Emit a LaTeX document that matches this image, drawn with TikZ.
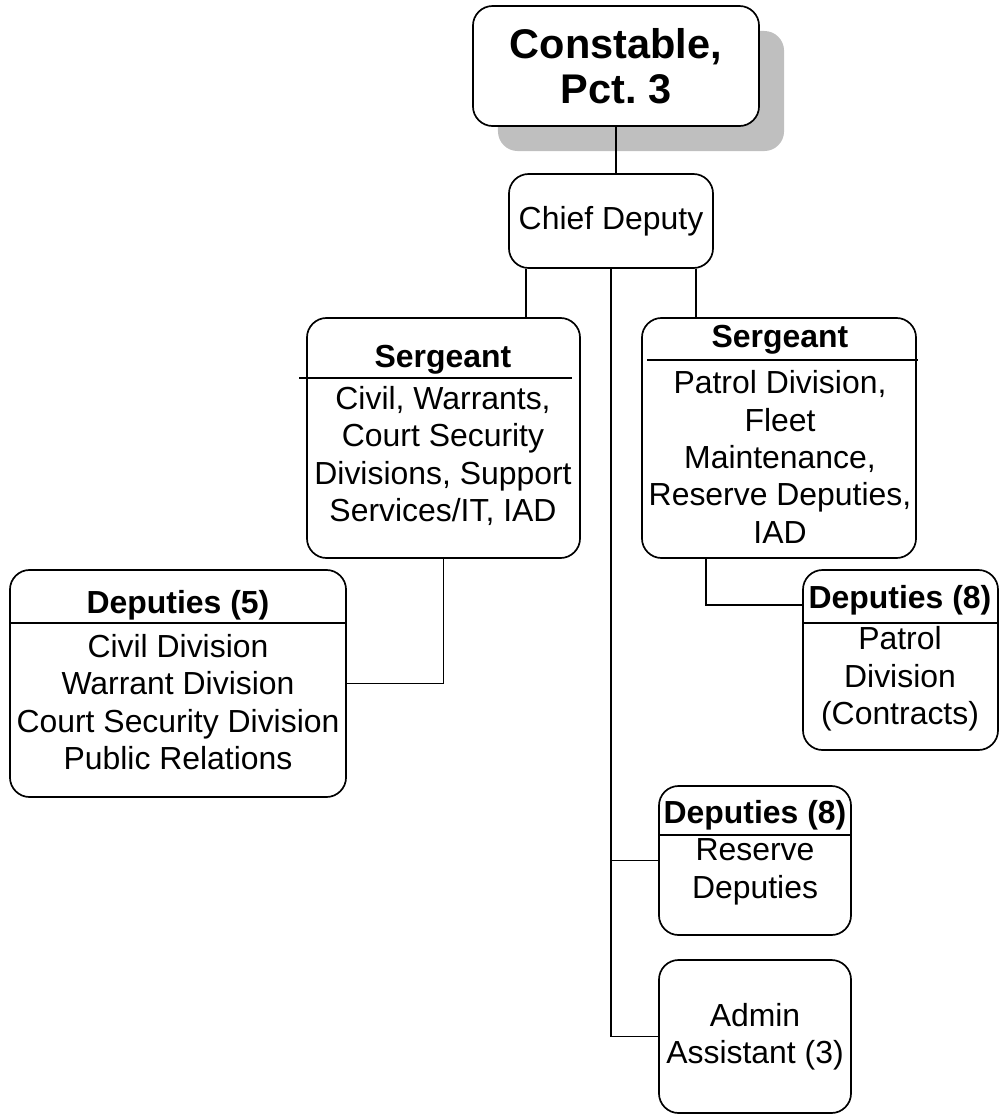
\documentclass[tikz,border=0pt]{standalone}
\usepackage{fontspec}
\setmainfont{Liberation Sans}
\usetikzlibrary{positioning,calc,shadows}

\begin{document}
\begin{tikzpicture}[
    x=0.025cm, y=-0.025cm,
    unit/.style={rectangle, draw, line width=1.2pt, rounded corners=14pt, fill=white, inner sep=0pt},
    txt/.style={align=center, inner sep=0pt, font=\fontsize{22.7}{26.6}\selectfont},
    head/.style={txt, font=\fontsize{22.7}{26.6}\selectfont\bfseries},
    link/.style={line width=1.2pt}
]
\useasboundingbox (0,0) rectangle (999,1120);

% Units
\node (constable) [unit, minimum width=7.15cm, minimum height=3cm, align=center,
    font=\fontsize{29.5}{32}\selectfont\bfseries,
    drop shadow={shadow xshift=0.625cm, shadow yshift=-0.625cm, fill=gray!50, opacity=1}]
    at (616,66) {Constable,\\Pct.\ 3};
\node (chief) [unit, txt, draw, minimum width=5.1cm, minimum height=2.35cm] at (611,221) {Chief Deputy};
\node (sgtleft) [unit, minimum width=6.825cm, minimum height=6cm] at (443.5,438) {};
\node (sgtright) [unit, minimum width=6.85cm, minimum height=6cm] at (779,438) {};
\node (depfive) [unit, minimum width=8.4cm, minimum height=5.675cm] at (178,683.5) {};
\node (depcontract) [unit, minimum width=4.875cm, minimum height=4.5cm] at (900.5,660) {};
\node (depreserve) [unit, minimum width=4.8cm, minimum height=3.725cm] at (755,860.5) {};
\node (admin) [unit, txt, draw, minimum width=4.8cm, minimum height=3.825cm] at (755,1036.5) {Admin\\Assistant (3)};

% Headers
\node (sgtlefthead) [head] at (443,360) {Sergeant};
\node (sgtrighthead) [head] at (780,340) {Sergeant};
\node (depfivehead) [head] at (178,605) {Deputies (5)};
\node (depcontracthead) [head] at (900,600) {Deputies (8)};
\node (depreservehead) [head] at (755,815) {Deputies (8)};

% Header rules
\draw[link] (299,378) -- (572,378);
\draw[link] (647,360) -- (918,360);
\draw[link] (depfive.west |- 0,623) -- (depfive.east |- 0,623);
\draw[link] (depcontract.west |- 0,623) -- (depcontract.east |- 0,623);
\draw[link] (depreserve.west |- 0,835) -- (depreserve.east |- 0,835);

% Body texts
\node (sgtleftbody) [txt] at (443,456) {Civil, Warrants,\\Court Security\\Divisions, Support\\Services/IT, IAD};
\node (sgtrightbody) [txt] at (780,457) {Patrol Division,\\Fleet\\Maintenance,\\Reserve Deputies,\\IAD};
\node (depfivebody) [txt] at (178,702) {Civil Division\\Warrant Division\\Court Security Division\\Public Relations};
\node (depcontractbody) [txt] at (900,679) {Patrol\\Division\\(Contracts)};
\node (depreservebody) [txt] at (755,872) {Reserve\\Deputies};

% Branch points
\coordinate (chiefleft) at ($(chief.south west)+(18,0)$);
\coordinate (chiefright) at ($(chief.south east)+(-18,0)$);
\coordinate (sgtrightfoot) at ($(sgtright.south west)+(65,0)$);
\coordinate (depcontractin) at ($(depcontract.north west)+(0,36)$);

% Connections
\draw[link] (constable.south) -- (constable.south |- chief.north);
\draw[link] (chiefleft) -- (chiefleft |- sgtleft.north);
\draw[link] (chiefright) -- (chiefright |- sgtright.north);
\draw[link] (chief.south) |- (admin.west);
\draw[link] (chief.south |- depreserve.west) -- (depreserve.west);
\draw[link] (sgtleft.south) |- (depfive.east);
\draw[link] (sgtrightfoot) |- (depcontractin);

\end{tikzpicture}
\end{document}
